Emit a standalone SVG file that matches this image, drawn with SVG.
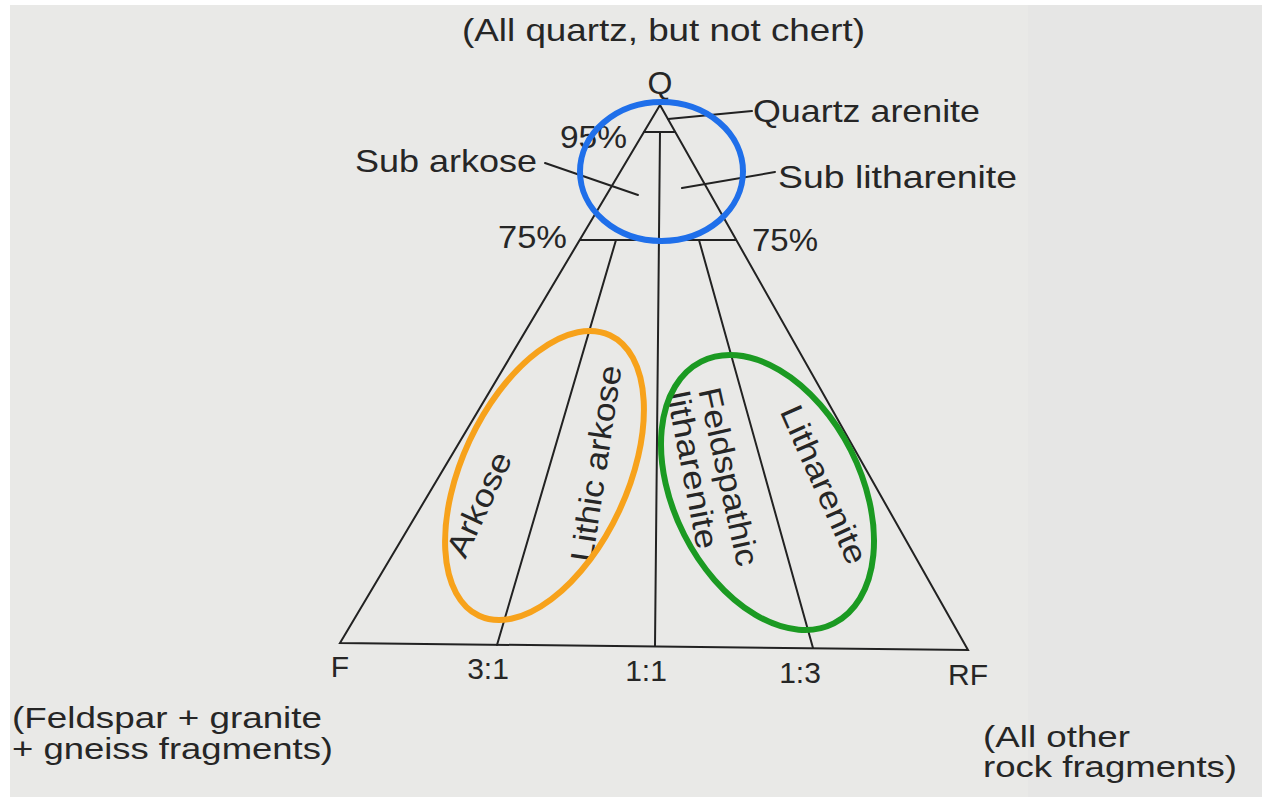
<svg xmlns="http://www.w3.org/2000/svg" width="1262" height="797" viewBox="0 0 1262 797">
<style>
text{font-family:"Liberation Sans",Arial,sans-serif;fill:#262626}
.lbl{font-size:32px}
.bot{font-size:30px;text-anchor:middle}
.note{font-size:30px}
.ln{stroke:#222;stroke-width:2;fill:none;stroke-linecap:round}
.ring{fill:none;stroke-width:6}
</style>
<rect x="0" y="0" width="1262" height="797" fill="#ffffff"/>
<rect x="10" y="5" width="1252" height="792" fill="#e9e9e7"/>
<rect x="1028" y="5" width="234" height="792" fill="#e6e6e5"/>
<g id="connectors">
<path class="ln" d="M660,105 L340,643 L968,650 Z"/>
<line class="ln" x1="660" y1="132" x2="655" y2="646" stroke-width="2.6"/>
<line class="ln" x1="644" y1="132" x2="675" y2="132" stroke-width="2.6"/>
<line class="ln" x1="580" y1="240" x2="736" y2="240" stroke-width="3"/>
<line class="ln" x1="616" y1="240" x2="497" y2="645"/>
<line class="ln" x1="699" y1="240" x2="813" y2="648"/>
<line class="ln" x1="668" y1="119" x2="752" y2="111" stroke-width="1.5"/>
<line class="ln" x1="545" y1="163" x2="638" y2="195" stroke-width="1.5"/>
<line class="ln" x1="682" y1="188" x2="775" y2="172" stroke-width="1.5"/>
</g>
<g id="title"><text class="lbl" x="462" y="41" textLength="403" lengthAdjust="spacingAndGlyphs">(All quartz, but not chert)</text></g>
<g id="Q"><text class="lbl" x="660" y="94" text-anchor="middle">Q</text></g>
<g id="quartz-arenite"><text class="lbl" x="753" y="122" textLength="227" lengthAdjust="spacingAndGlyphs">Quartz arenite</text></g>
<g id="sub-arkose"><text class="lbl" x="355" y="172" textLength="182" lengthAdjust="spacingAndGlyphs">Sub arkose</text></g>
<g id="sub-litharenite"><text class="lbl" x="778" y="188" textLength="239" lengthAdjust="spacingAndGlyphs">Sub litharenite</text></g>
<g id="p95"><text class="lbl" x="560" y="148" textLength="67" lengthAdjust="spacingAndGlyphs">95%</text></g>
<g id="p75-left"><text class="lbl" x="498" y="248" textLength="69" lengthAdjust="spacingAndGlyphs">75%</text></g>
<g id="p75-right"><text class="lbl" x="752" y="251" textLength="66" lengthAdjust="spacingAndGlyphs">75%</text></g>
<g id="arkose"><text class="lbl" text-anchor="middle" transform="translate(489,509) rotate(-65)" textLength="112" lengthAdjust="spacingAndGlyphs">Arkose</text></g>
<g id="lithic-arkose"><text class="lbl" text-anchor="middle" transform="translate(607,465) rotate(-81.5)" textLength="198" lengthAdjust="spacingAndGlyphs">Lithic arkose</text></g>
<g id="feldspathic-litharenite">
<text class="lbl" text-anchor="middle" transform="translate(718,479) rotate(77.5)" textLength="182" lengthAdjust="spacingAndGlyphs">Feldspathic</text>
<text class="lbl" text-anchor="middle" transform="translate(682,472) rotate(79)" textLength="160" lengthAdjust="spacingAndGlyphs">litharenite</text>
</g>
<g id="litharenite"><text class="lbl" text-anchor="middle" transform="translate(814,489) rotate(66)" textLength="170" lengthAdjust="spacingAndGlyphs">Litharenite</text></g>
<g id="F"><text class="bot" x="340" y="677">F</text></g>
<g id="r31"><text class="bot" x="488" y="679">3:1</text></g>
<g id="r11"><text class="bot" x="646" y="681">1:1</text></g>
<g id="r13"><text class="bot" x="800" y="683">1:3</text></g>
<g id="RF"><text class="bot" x="968" y="685">RF</text></g>
<g id="F-note">
<text class="note" x="12" y="728" textLength="310" lengthAdjust="spacingAndGlyphs">(Feldspar + granite</text>
<text class="note" x="12" y="759" textLength="321" lengthAdjust="spacingAndGlyphs">+ gneiss fragments)</text>
</g>
<g id="RF-note">
<text class="note" x="983" y="747" textLength="147" lengthAdjust="spacingAndGlyphs">(All other</text>
<text class="note" x="983" y="777" textLength="254" lengthAdjust="spacingAndGlyphs">rock fragments)</text>
</g>
<g id="highlights">
<ellipse class="ring" cx="661.5" cy="171.5" rx="81.5" ry="69.5" stroke="#1f6fea"/>
<ellipse class="ring" cx="0" cy="0" rx="82.6" ry="154.8" stroke="#f7a21b" transform="translate(544.5,475.5) rotate(25)"/>
<ellipse class="ring" cx="0" cy="0" rx="93.4" ry="146.7" stroke="#1b9a22" transform="translate(767.5,492.5) rotate(-26.9)"/>
</g>
</svg>
